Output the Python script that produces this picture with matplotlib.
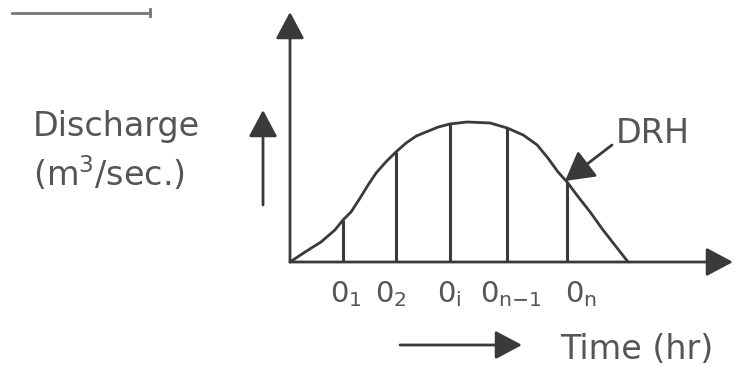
import numpy as np
import matplotlib
matplotlib.use('Agg')
import matplotlib.pyplot as plt

# direct runoff hydrograph (time in hr, discharge in m3/sec)
time_hr = [0.0, 0.28, 0.58, 0.84, 0.99, 1.14, 1.31, 1.46, 1.61, 1.79, 1.98, 2.17,
           2.36, 2.77, 2.99, 3.31, 3.74, 4.06, 4.36, 4.62, 4.82, 5.01, 5.18, 5.36,
           5.61, 5.85, 6.1, 6.32]
discharge = [0.0, 0.71, 1.43, 2.29, 3.0, 3.57, 4.57, 5.5, 6.36, 7.14, 7.86, 8.5,
             9.0, 9.64, 9.86, 10.0, 9.93, 9.57, 9.07, 8.36, 7.43, 6.43, 5.71, 4.79,
             3.57, 2.29, 1.07, 0.0]

# ordinates drawn under the curve
ord_time = [0.99, 1.98, 2.99, 4.06, 5.18]
ord_value = [3.0, 7.86, 9.86, 9.57, 5.71]
ord_labels = ['0$_1$', '0$_2$', '0$_\\mathregular{i}$', '0$_\\mathregular{n{-}1}$', '0$_\\mathregular{n}$']

W, H = 735, 367
X0, Y0 = 290, 262      # origin in pixels
SX, SY = 53.5, 14.0    # pixels per unit

line_c = '#3a3a3a'
text_c = '#555555'

plt.rcParams['font.family'] = ['DejaVu Sans']
plt.rcParams['mathtext.default'] = 'regular'

fig = plt.figure(figsize=(W / 100, H / 100), dpi=100)
ax = fig.add_axes([0, 0, 1, 1])
ax.set_xlim(-X0 / SX, (W - X0) / SX)
ax.set_ylim(-(H - Y0) / SY, Y0 / SY)
ax.axis('off')


def fp(x, y):
    # pixel position -> figure fraction
    return x / W, 1 - y / H


# curve and ordinates
ax.plot(time_hr, discharge, color=line_c, lw=2.0, solid_capstyle='round', solid_joinstyle='round')
ax.vlines(ord_time, 0, ord_value, color=line_c, lw=2.2)

# axes with arrows
arr = dict(arrowstyle='-|>,head_length=0.75,head_width=0.4', color=line_c, lw=2.0,
           shrinkA=0, shrinkB=0, mutation_scale=22)
ax.annotate('', xy=((733 - X0) / SX, 0), xytext=(0, 0), arrowprops=arr)
ax.annotate('', xy=(0, (Y0 - 12) / SY), xytext=(0, 0), arrowprops=arr)

# ordinate labels
lab_x = [330, 375, 437, 480, 565]
for lx, lab in zip(lab_x, ord_labels):
    fig.text(*fp(lx, 302), lab, fontsize=21, color=text_c, ha='left', va='baseline')

# y label with small arrow
fig.text(*fp(33, 136), 'Discharge', fontsize=24, color=text_c, ha='left', va='baseline')
fig.text(*fp(33, 186), '(m$^3$/sec.)', fontsize=24, color=text_c, ha='left', va='baseline')
ax.annotate('', xy=fp(263, 110), xytext=fp(263, 205), xycoords='figure fraction',
            textcoords='figure fraction', arrowprops=arr)

# x label with small arrow
fig.text(*fp(560, 359), 'Time (hr)', fontsize=24, color=text_c, ha='left', va='baseline')
ax.annotate('', xy=fp(522, 345), xytext=fp(400, 345), xycoords='figure fraction',
            textcoords='figure fraction', arrowprops=arr)

# DRH pointer
fig.text(*fp(616, 143), 'DRH', fontsize=24, color=text_c, ha='left', va='baseline')
ax.annotate('', xy=fp(565, 181), xytext=fp(612, 145), xycoords='figure fraction',
            textcoords='figure fraction',
            arrowprops=dict(arrowstyle='-|>,head_length=0.8,head_width=0.45', color=line_c,
                            lw=2.0, shrinkA=0, shrinkB=0, mutation_scale=22))

# stray line at the top left of the scan
fig.add_artist(plt.Line2D([12 / W, 150 / W], [1 - 13 / H, 1 - 13 / H], color='#777777', lw=2.0))
fig.add_artist(plt.Line2D([150 / W, 150 / W], [1 - 9 / H, 1 - 16 / H], color='#777777', lw=2.0))

plt.savefig('out.png', dpi=100)
